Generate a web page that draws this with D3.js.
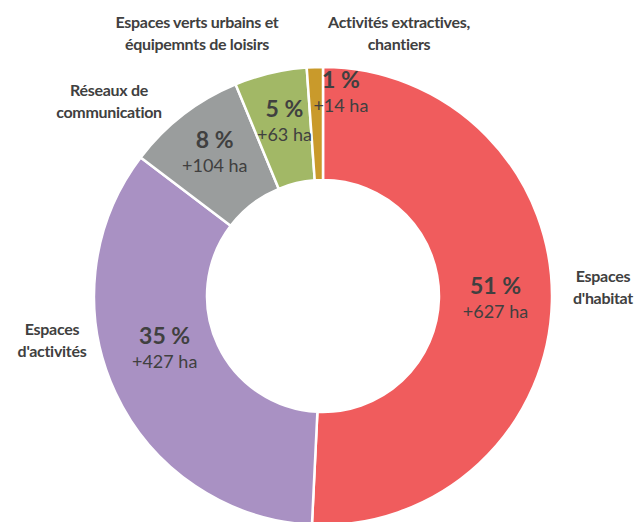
<!DOCTYPE html>
<html>
<head>
<meta charset="utf-8">
<script src="https://cdn.jsdelivr.net/npm/d3@7"></script>
<style>
  body { margin: 0; background: #fff; }
  svg text { font-family: Lato, "Open Sans", sans-serif; fill: #404040; }
</style>
</head>
<body>
<svg id="chart" width="639" height="522"></svg>
<script>
// data (hectares consumed)
const categories = ["Espaces d'habitat", "Espaces d'activités", "Réseaux de communication",
                    "Espaces verts urbains et équipemnts de loisirs", "Activités extractives, chantiers"];
const hectares = [627, 427, 104, 63, 14];
const percents = ["51 %", "35 %", "8 %", "5 %", "1 %"];
const nameLines = [
    ["Espaces", "d'habitat"],
    ["Espaces", "d'activités"],
    ["Réseaux de", "communication"],
    ["Espaces verts urbains et", "équipemnts de loisirs"],
    ["Activités extractives,", "chantiers"]
];
const colors = ["#f05c5d", "#a991c3", "#9a9d9d", "#a2b866", "#c99a2b"];

// layout
const cx = 323, cy = 296;
const outerR = 229, innerR = 116;
// label nudges from the slice centroid (Excel moved some of them)
const valueNudge = [[0, -5], [-2, -24], [-3, -10], [1, -10], [24, -35]];
// category names sit outside the ring, centred on these points
const namePos = [[603, 282], [52, 335], [109, 96], [197, 28], [399, 28]];

const svg = d3.select("#chart");
const g = svg.append("g").attr("transform", `translate(${cx},${cy})`);

const pie = d3.pie().sort(null).value(d => d);
const arcs = pie(hectares);

const arc = d3.arc().innerRadius(innerR).outerRadius(outerR);

g.selectAll("path")
    .data(arcs)
    .enter()
    .append("path")
    .attr("d", arc)
    .attr("fill", (d, i) => colors[i])
    .attr("stroke", "#fff")
    .attr("stroke-width", 2.5)
    .attr("stroke-linejoin", "round");

// value labels: bold percent + hectares below
const vals = g.selectAll("g.val")
    .data(arcs)
    .enter()
    .append("g")
    .attr("class", "val")
    .attr("transform", (d, i) => {
        const c = arc.centroid(d);
        return `translate(${c[0] + valueNudge[i][0]},${c[1] + valueNudge[i][1]})`;
    });

vals.append("text")
    .attr("text-anchor", "middle")
    .attr("y", -1)
    .style("font-size", "23px")
    .style("font-weight", "bold")
    .text((d, i) => percents[i]);

vals.append("text")
    .attr("text-anchor", "middle")
    .attr("y", 23)
    .style("font-size", "18px")
    .text((d, i) => "+" + hectares[i] + " ha");

// category names
nameLines.forEach((lines, i) => {
    const t = svg.append("text")
        .attr("text-anchor", "middle")
        .attr("x", namePos[i][0])
        .attr("y", namePos[i][1])
        .style("font-size", "16px")
        .style("letter-spacing", "-0.3px")
        .style("font-weight", "bold");
    lines.forEach((line, j) => {
        t.append("tspan")
            .attr("x", namePos[i][0])
            .attr("dy", j === 0 ? 0 : 22)
            .text(line);
    });
});
</script>
</body>
</html>
